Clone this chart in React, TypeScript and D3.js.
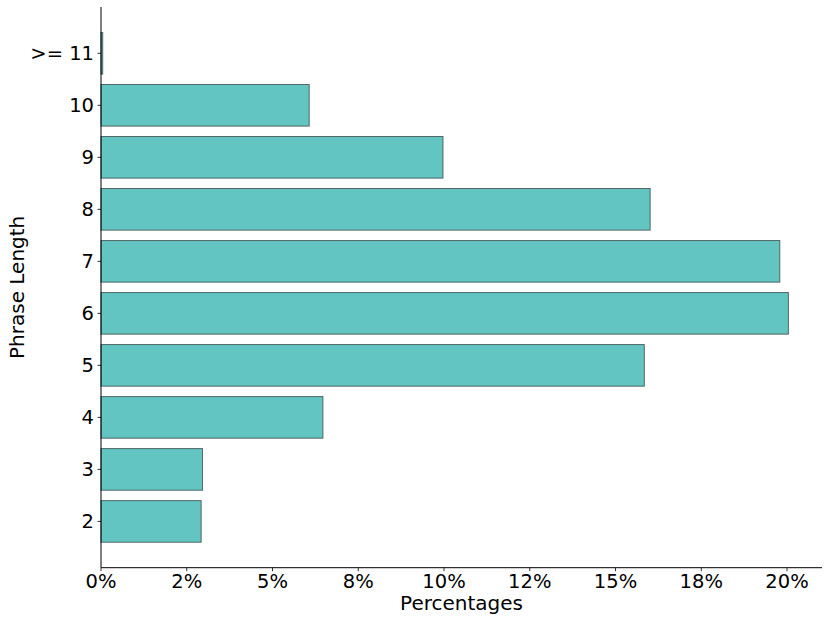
import React from "react";
import * as d3 from "d3";

const categories = ["2", "3", "4", "5", "6", "7", "8", "9", "10", ">= 11"];
const percentages = [2.92, 2.96, 6.47, 15.84, 20.04, 19.79, 16.01, 9.97, 6.07, 0.05];
const xTicks = [0, 2.5, 5, 7.5, 10, 12.5, 15, 17.5, 20];
const xTickLabels = ["0%", "2%", "5%", "8%", "10%", "12%", "15%", "18%", "20%"];

const W = 830;
const H = 623;
const left = 101;
const right = 822;
const top = 7;
const bottom = 567.7;

export default function App() {
  const x = d3.scaleLinear().domain([0, 21.02]).range([left, right]);
  const y = d3.scaleLinear().domain([-0.89, 9.89]).range([bottom, top]);
  const bh = y(0) - y(0.8);
  const font = "DejaVu Sans, sans-serif";
  return (
    <svg width={W} height={H} style={{ position: "absolute", left: 0, top: 0 }}>
      <rect x={0} y={0} width={W} height={H} fill="#fff" />
      {percentages.map((p, i) => (
        <rect
          key={categories[i]}
          x={x(0)}
          y={y(i) - bh / 2}
          width={x(p) - x(0)}
          height={bh}
          fill="#62c5c1"
          stroke="#3a4a4a"
          strokeOpacity={0.8}
          strokeWidth={1}
        />
      ))}
      <line x1={left} x2={left} y1={top} y2={bottom} stroke="#000" strokeWidth={1} />
      <line x1={left} x2={right} y1={bottom} y2={bottom} stroke="#000" strokeWidth={1} />
      {categories.map((c, i) => (
        <g key={c}>
          <line x1={left - 3.5} x2={left} y1={y(i)} y2={y(i)} stroke="#000" strokeWidth={0.8} />
          <text
            x={left - 7}
            y={y(i)}
            dy="0.36em"
            textAnchor="end"
            fontFamily={font}
            fontSize={19.5}
            fill="#000"
          >
            {c}
          </text>
        </g>
      ))}
      {xTicks.map((t, i) => (
        <g key={t}>
          <line x1={x(t)} x2={x(t)} y1={bottom} y2={bottom + 3.5} stroke="#000" strokeWidth={0.8} />
          <text
            x={x(t)}
            y={bottom + 20.5}
            textAnchor="middle"
            fontFamily={font}
            fontSize={19.5}
            fill="#000"
          >
            {xTickLabels[i]}
          </text>
        </g>
      ))}
      <text
        x={(left + right) / 2}
        y={610}
        textAnchor="middle"
        fontFamily={font}
        fontSize={20}
        fill="#000"
      >
        Percentages
      </text>
      <text
        transform={`translate(24, ${(top + bottom) / 2}) rotate(-90)`}
        textAnchor="middle"
        fontFamily={font}
        fontSize={20}
        fill="#000"
      >
        Phrase Length
      </text>
    </svg>
  );
}
